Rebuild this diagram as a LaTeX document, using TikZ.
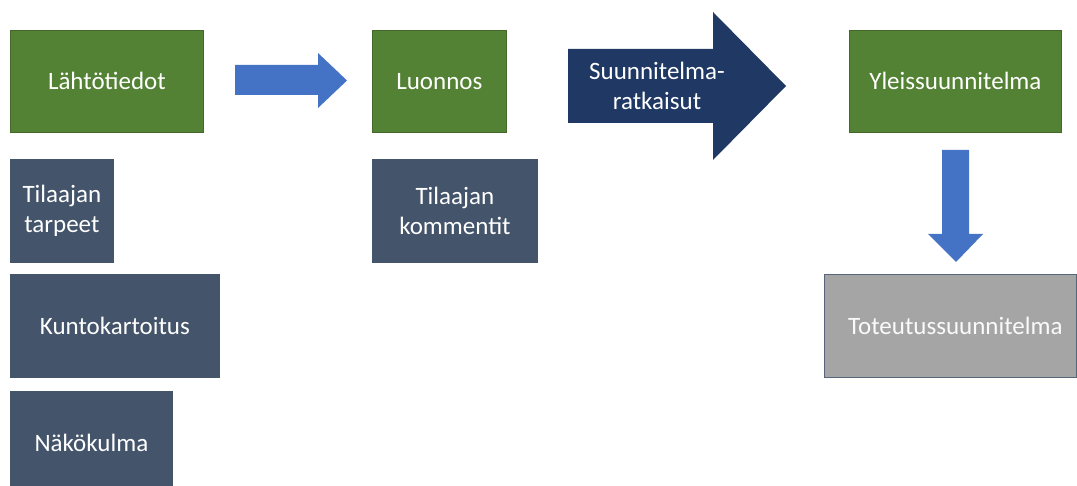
\documentclass[tikz,border=0pt]{standalone}
\usepackage{fontspec}
\setmainfont{Carlito}
\definecolor{boxgreen}{HTML}{548235}
\definecolor{boxslate}{HTML}{44546A}
\definecolor{boxnavy}{HTML}{203864}
\definecolor{arrowblue}{HTML}{4472C4}
\definecolor{boxgray}{HTML}{A5A5A5}
\tikzset{
  box/.style={rectangle, anchor=north west, inner sep=0pt, align=center,
    text=white, font=\fontsize{25}{30}\selectfont, line width=0.8pt},
  greenbox/.style={box, fill=boxgreen, draw=boxgreen!80!black},
  slatebox/.style={box, fill=boxslate, draw=boxslate},
  graybox/.style={box, fill=boxgray, draw=boxslate!90!white, text=white!95!boxgray},
  bluearrow/.style={fill=arrowblue, draw=none},
  navyarrow/.style={fill=boxnavy, draw=none},
  label/.style={inner sep=0pt, align=center, text=white, font=\fontsize{25}{30}\selectfont}
}
\begin{document}
\begin{tikzpicture}[x=1pt,y=-1pt]
\useasboundingbox (0,0) rectangle (1077,486);
% top row
\node[greenbox, minimum width=193pt, minimum height=102pt] (lahto) at (10,30) {Lähtötiedot};
\node[greenbox, minimum width=134pt, minimum height=102pt] (luonnos) at (372,30) {Luonnos};
\node[greenbox, minimum width=212pt, minimum height=102pt] (yleis) at (849,30) {Yleissuunnitelma};
% left column
\node[slatebox, minimum width=103pt, minimum height=103pt] (tarpeet) at (10,159) {Tilaajan\\tarpeet};
\node[slatebox, minimum width=209pt, minimum height=103pt] (kunto) at (10,274) {Kuntokartoitus};
\node[slatebox, minimum width=162pt, minimum height=103pt] (nako) at (10,391) {Näkökulma};
% comments
\node[slatebox, minimum width=165pt, minimum height=103pt] (kommentit) at (372,159) {Tilaajan\\kommentit};
% implementation plan
\node[graybox, minimum width=252pt, minimum height=103pt] (toteutus) at (824,274) {\hspace*{10pt}Toteutussuunnitelma};
% block arrows
\fill[bluearrow] (235,65) -- (318,65) -- (318,53) -- (347,80.5) -- (318,108) -- (318,95) -- (235,95) -- cycle;
\fill[navyarrow] (568,49) -- (713,49) -- (713,12) -- (786,86) -- (713,160) -- (713,123) -- (568,123) -- cycle;
\node[label] (ratk) at (657,86) {Suunnitelma-\\ratkaisut};
\fill[bluearrow] (942,150) -- (969,150) -- (969,234) -- (983,234) -- (956,262) -- (928,234) -- (942,234) -- cycle;
\end{tikzpicture}
\end{document}
